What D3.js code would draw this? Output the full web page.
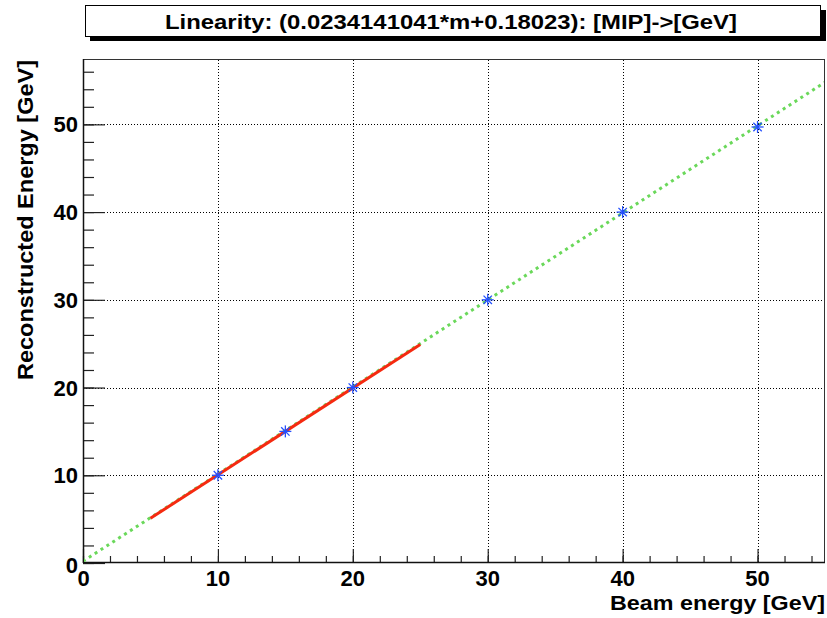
<!DOCTYPE html>
<html><head><meta charset="utf-8">
<script src="https://cdn.jsdelivr.net/npm/d3@7"></script>
<style>body{margin:0;background:#fff}svg{display:block}text{font-family:"Liberation Sans",Arial,sans-serif;font-weight:bold;fill:#000}</style>
</head><body><svg id="c" width="827" height="618"></svg>
<script>
const titleText = "Linearity: (0.0234141041*m+0.18023): [MIP]->[GeV]";
const xTitle = "Beam energy [GeV]";
const yTitle = "Reconstructed Energy [GeV]";
const xDomain = [0, 55];
const yDomain = [0, 57.45];
const majorTicks = [0, 10, 20, 30, 40, 50];
const beamEnergy = [10, 15, 20, 30, 40, 50];
const recoEnergy = [10.0, 15.0, 20.0, 30.0, 40.0, 49.7];
const fitRangeX = [5, 25];
const fitRangeY = [5.1, 24.9];
const extX = [0, 55];
const extY = [0.2, 54.8];

const svg = d3.select("#c");
const L = 83, R = 825, T = 59, B = 563;
const x = d3.scaleLinear().domain(xDomain).range([L, R]);
const y = d3.scaleLinear().domain(yDomain).range([B, T]);

// title box with shadow
svg.append("rect").attr("x", 90).attr("y", 10).attr("width", 736).attr("height", 31).attr("fill", "#000");
svg.append("rect").attr("x", 85.5).attr("y", 5.5).attr("width", 735).attr("height", 31).attr("fill", "#fff").attr("stroke", "#000").attr("stroke-width", 1);
svg.append("text").attr("x", 451).attr("y", 28.5).attr("text-anchor", "middle")
  .style("font-size", "21px").attr("textLength", 572).attr("lengthAdjust", "spacingAndGlyphs").text(titleText);

// frame
svg.append("rect").attr("x", L + 0.5).attr("y", T + 0.5).attr("width", R - L - 1).attr("height", B - T - 1)
  .attr("fill", "none").attr("stroke", "#333").attr("stroke-width", 1);

// grid
const gx = majorTicks.filter(d => d > 0);
svg.append("g").selectAll("line").data(gx).join("line")
  .attr("x1", d => Math.round(x(d)) + 0.5).attr("x2", d => Math.round(x(d)) + 0.5)
  .attr("y1", T + 1).attr("y2", B)
  .attr("stroke", "#000").attr("stroke-width", 1).attr("stroke-dasharray", "1,2");
svg.append("g").selectAll("line").data(gx).join("line")
  .attr("y1", d => Math.round(y(d)) + 0.5).attr("y2", d => Math.round(y(d)) + 0.5)
  .attr("x1", L).attr("x2", R - 1)
  .attr("stroke", "#000").attr("stroke-width", 1).attr("stroke-dasharray", "1,2");

// axes
const xAxisMinor = d3.axisTop(x).tickValues(d3.range(0, 55.01, 2)).tickSize(7).tickFormat("");
const xAxisMajor = d3.axisTop(x).tickValues(majorTicks).tickSize(14).tickFormat("");
const yAxisMinor = d3.axisRight(y).tickValues(d3.range(0, 57.4, 2)).tickSize(11).tickFormat("");
const yAxisMajor = d3.axisRight(y).tickValues(majorTicks).tickSize(22).tickFormat("");
function styleAxis(g) { g.select(".domain").remove(); g.selectAll("line").attr("stroke", "#222").attr("stroke-width", 1.2); }
svg.append("g").attr("transform", `translate(0,${B})`).call(xAxisMinor).call(styleAxis);
svg.append("g").attr("transform", `translate(0,${B})`).call(xAxisMajor).call(styleAxis);
svg.append("g").attr("transform", `translate(${L},0)`).call(yAxisMinor).call(styleAxis);
svg.append("g").attr("transform", `translate(${L},0)`).call(yAxisMajor).call(styleAxis);
// axis lines
svg.append("line").attr("x1", L).attr("x2", R).attr("y1", B - 0.5).attr("y2", B - 0.5).attr("stroke", "#111").attr("stroke-width", 1.5);
svg.append("line").attr("x1", L + 0.5).attr("x2", L + 0.5).attr("y1", T).attr("y2", B).attr("stroke", "#111").attr("stroke-width", 1.5);

// tick labels
svg.append("g").selectAll("text").data(majorTicks).join("text")
  .attr("x", d => x(d) + (d === 0 ? 0.5 : 0)).attr("y", 586).attr("text-anchor", "middle")
  .style("font-size", "22px").text(d => d);
svg.append("g").selectAll("text").data(majorTicks).join("text")
  .attr("x", 78).attr("y", d => y(d) + 8 + (d === 0 ? 2 : 0)).attr("text-anchor", "end")
  .style("font-size", "22px").text(d => d);

// axis titles
svg.append("text").attr("x", R).attr("y", 610).attr("text-anchor", "end")
  .style("font-size", "21px").attr("textLength", 215).attr("lengthAdjust", "spacingAndGlyphs").text(xTitle);
svg.append("text").attr("transform", `translate(33,${T + 1}) rotate(-90)`).attr("text-anchor", "end")
  .style("font-size", "22px").attr("textLength", 320).attr("lengthAdjust", "spacingAndGlyphs").text(yTitle);

// clip
svg.append("clipPath").attr("id", "clip").append("rect").attr("x", L + 1).attr("y", T + 1).attr("width", R - L - 2).attr("height", B - T - 2);
const plot = svg.append("g").attr("clip-path", "url(#clip)");
const line = d3.line().x(d => x(d[0])).y(d => y(d[1]));

plot.append("path").datum(d3.zip(extX, extY)).attr("d", line)
  .attr("fill", "none").attr("stroke", "#6ad85a").attr("stroke-width", 3).attr("stroke-dasharray", "3,4");
plot.append("path").datum(d3.zip(fitRangeX, fitRangeY)).attr("d", line)
  .attr("fill", "none").attr("stroke", "#f52a10").attr("stroke-width", 3);

// markers (asterisk)
const pts = d3.zip(beamEnergy, recoEnergy);
const m = plot.append("g").selectAll("g").data(pts).join("g")
  .attr("transform", d => `translate(${x(d[0])},${y(d[1])})`)
  .attr("stroke", "#2450ff").attr("stroke-width", 1.3);
const s = 6, sd = 4.2;
m.append("line").attr("x1", -s).attr("x2", s).attr("y1", 0).attr("y2", 0);
m.append("line").attr("x1", 0).attr("x2", 0).attr("y1", -s).attr("y2", s);
m.append("line").attr("x1", -sd).attr("x2", sd).attr("y1", -sd).attr("y2", sd);
m.append("line").attr("x1", -sd).attr("x2", sd).attr("y1", sd).attr("y2", -sd);
</script></body></html>
